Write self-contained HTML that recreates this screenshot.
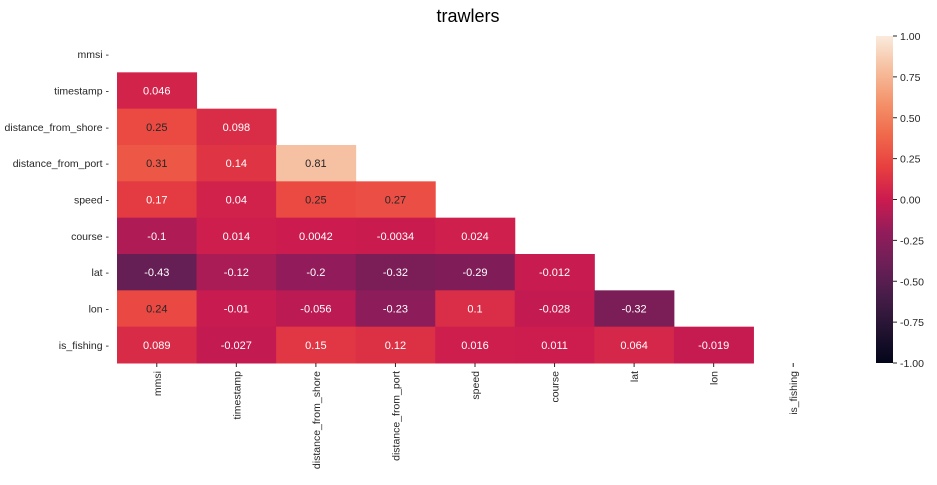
<!DOCTYPE html>
<html><head><meta charset="utf-8"><style>
body{margin:0;background:#fff;}
svg text{font-family:"Liberation Sans",sans-serif;}
</style></head><body>
<svg id="chart" width="937" height="480" xmlns="http://www.w3.org/2000/svg">
<defs><linearGradient id="cbg" x1="0" y1="1" x2="0" y2="0"></linearGradient></defs>
<text x="468" y="22" font-size="18" text-anchor="middle">trawlers</text>
<g id="cells"></g><g id="labels"></g><g id="cbar"></g>
</svg>
<script>
const labels = ["mmsi","timestamp","distance_from_shore","distance_from_port","speed","course","lat","lon","is_fishing"];
const row1 = [0.046];
const row2 = [0.25,0.098];
const row3 = [0.31,0.14,0.81];
const row4 = [0.17,0.04,0.25,0.27];
const row5 = [-0.1,0.014,0.0042,-0.0034,0.024];
const row6 = [-0.43,-0.12,-0.2,-0.32,-0.29,-0.012];
const row7 = [0.24,-0.01,-0.056,-0.23,0.1,-0.028,-0.32];
const row8 = [0.089,-0.027,0.15,0.12,0.016,0.011,0.064,-0.019];
const rows = [[],row1,row2,row3,row4,row5,row6,row7,row8];
const cbTicks = [1.00,0.75,0.50,0.25,0.00,-0.25,-0.50,-0.75,-1.00];

const NS="http://www.w3.org/2000/svg";
const X0=117, X1=833, Y0=36, Y1=363;
const cw=(X1-X0)/labels.length, ch=(Y1-Y0)/labels.length;
const xs=i=>X0+i*cw, ys=j=>Y0+j*ch;
const stops=["#03051a","#221331","#451c47","#6b1f56","#921c5b","#cb1b4f","#e83f3f","#f06a4c","#f4946c","#f6bf9f","#faebdd"];
function hex(h){return [1,3,5].map(i=>parseInt(h.substr(i,2),16));}
function color(v){let t=(v+1)/2;t=Math.max(0,Math.min(1,t));const p=t*10,i=Math.min(9,Math.floor(p)),f=p-i;
 const a=hex(stops[i]),b=hex(stops[i+1]);const c=a.map((x,k)=>Math.round(x+(b[k]-x)*f));return c;}
function mk(tag,attrs,parent){const e=document.createElementNS(NS,tag);for(const k in attrs)e.setAttribute(k,attrs[k]);parent.appendChild(e);return e;}
const cells=document.getElementById('cells'), lab=document.getElementById('labels'), cb=document.getElementById('cbar');
rows.forEach((r,j)=>r.forEach((v,i)=>{
 const c=color(v);
 const rect=mk('rect',{x:xs(i),y:ys(j),width:cw+0.5,height:ch+0.5,fill:`rgb(${c})`},cells);
 
 
 const lum=(0.2126*c[0]+0.7152*c[1]+0.0722*c[2])/255;
 const t=mk('text',{x:xs(i)+cw/2,y:ys(j)+ch/2+4,'font-size':11,'text-anchor':'middle',fill:lum>0.408?'#262626':'#fff'},cells);
 t.textContent=String(v);
 
 
}));
labels.forEach((l,j)=>{
 const t=mk('text',{x:X0-8,y:ys(j)+ch/2+4,'font-size':10.5,'text-anchor':'end',fill:'#262626'},lab);
 t.textContent=l+' -';
 
 
 const xx=xs(j)+cw/2;
 const t2=mk('text',{x:0,y:0,'font-size':10.5,'text-anchor':'end',fill:'#262626',transform:`translate(${xx+4},${Y1+8}) rotate(-90)`},lab);
 t2.textContent=l;
 
 
 mk('line',{x1:xx,x2:xx,y1:Y1,y2:Y1+4,stroke:'#262626'},lab);
});
const CX=876,CW=17;
const g=document.getElementById('cbg');
for(let k=0;k<=20;k++){const v=-1+k/10;mk('stop',{offset:k/20,'stop-color':`rgb(${color(v)})`},g);}
const bar=mk('rect',{x:CX,y:Y0,width:CW,height:Y1-Y0,fill:'url(#cbg)'},cb);


const cy=v=>Y1-(v+1)/2*(Y1-Y0);
cbTicks.forEach(v=>{
 mk('line',{x1:CX+CW,x2:CX+CW+4,y1:cy(v),y2:cy(v),stroke:'#262626'},cb);
 const t=mk('text',{x:CX+CW+7,y:cy(v)+4,'font-size':10.5,fill:'#262626'},cb);
 t.textContent=v.toFixed(2);
 
 
});
</script>
</body></html>
